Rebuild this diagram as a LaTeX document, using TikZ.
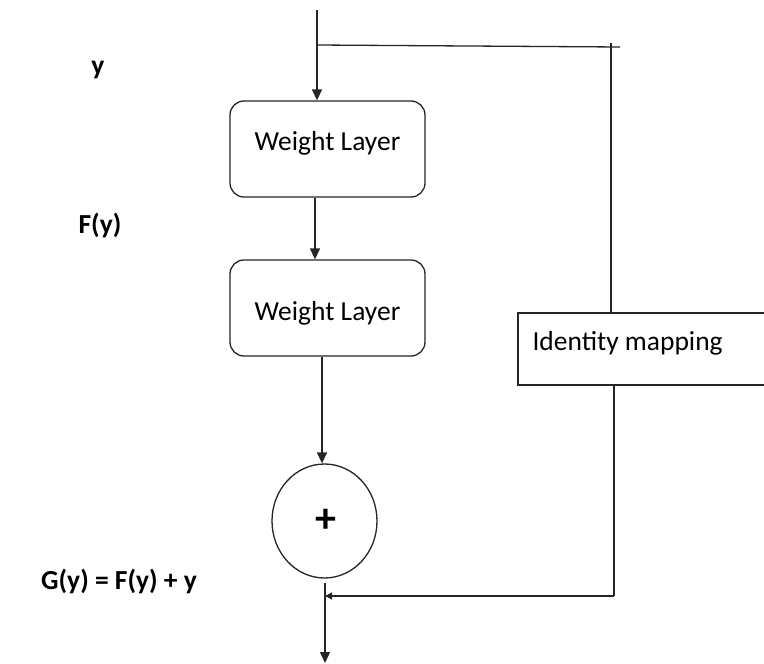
\documentclass[tikz,border=0pt]{standalone}
\usepackage{fontspec}
\setmainfont{Carlito}
\usetikzlibrary{arrows.meta,shapes.geometric}
\begin{document}
\begin{tikzpicture}[x=1pt,y=-1pt,
  ln/.style={draw=black!85,line width=1.3pt},
  arr/.style={ln,-{Triangle[length=11pt,width=10pt]}},
  sarr/.style={ln,-{Triangle[length=7pt,width=7pt]}},
  wbox/.style={ln,rounded corners=14pt,minimum width=195pt,minimum height=96pt,inner sep=0pt},
  ibox/.style={ln,minimum width=252pt,minimum height=72pt,inner sep=0pt},
  lbl/.style={font=\fontsize{27.5pt}{31pt}\selectfont\bfseries},
  txt/.style={font=\fontsize{27.5pt}{31pt}\selectfont},
  plusf/.style={font=\fontsize{42pt}{46pt}\selectfont\bfseries}
]
\useasboundingbox (0,0) rectangle (764,664);
\fill[white] (0,0) rectangle (764,664);

% nodes
\node[wbox,label={[txt,yshift=6pt]center:Weight Layer}] (w1) at (327.5,149) {};
\node[wbox,label={[txt,yshift=-5pt]center:Weight Layer}] (w2) at (327.5,308) {};
\node[ibox] (idm) at (644,349) {};
\node[txt,anchor=west] (idt) at (529,343) {Identity mapping};
\node[ln,ellipse,minimum width=105pt,minimum height=114pt,inner sep=0pt] (plus) at (324.5,521) {};
\node[plusf] (pl) at (326,521) {+};

% labels
\node[lbl] (ly) at (98,70) {y};
\node[lbl] (lf) at (100,225) {F(y)};
\node[lbl] (lg) at (119,581) {G(y) = F(y) + y};

% coordinates
\coordinate (top) at (317,10);
\coordinate (split) at (317,45);
\coordinate (tr) at (620,47);
\coordinate (rv) at (611,43);
\coordinate (rb) at (614,596);
\coordinate (join) at (325,596);
\coordinate (o1) at (325,583);
\coordinate (o2) at (325,663);

% connectors
\draw[arr] (top) -- (top |- w1.north);
\draw[ln] (split) -- (tr);
\draw[ln] (rv) -- (rv |- idm.north);
\draw[arr] (315,0 |- w1.south) -- (315,0 |- w2.north);
\draw[arr] (322,0 |- w2.south) -- (322,0 |- plus.north);
\draw[ln] (rb |- idm.south) -- (rb);
\draw[sarr] (rb) -- (join);
\draw[arr] (o1) -- (o2);
\end{tikzpicture}
\end{document}
